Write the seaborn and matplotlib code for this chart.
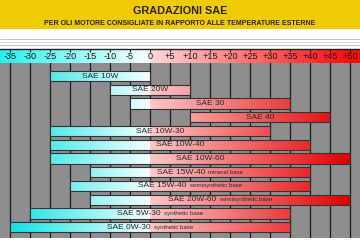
import numpy as np
import pandas as pd
import matplotlib
matplotlib.use("Agg")
import matplotlib.pyplot as plt
import seaborn as sns
from matplotlib.offsetbox import TextArea, HPacker, AnnotationBbox
from matplotlib.lines import Line2D
from matplotlib.patches import Rectangle

# ---------------- data ----------------
grades = ["SAE 10W", "SAE 20W", "SAE 30", "SAE 40", "SAE 10W-30", "SAE 10W-40",
          "SAE 10W-60", "SAE 15W-40", "SAE 15W-40", "SAE 20W-60", "SAE 5W-30", "SAE 0W-30"]
notes = ["", "", "", "", "", "", "", "mineral base", "semisynthetic base",
         "semisynthetic base", "synthetic base", "synthetic base"]
t_min = [-25, -10, -5, 10, -25, -25, -25, -15, -20, -15, -30, -35]
t_max = [0, 10, 35, 45, 30, 40, 50, 40, 40, 50, 35, 35]
tick_values = [-35, -30, -25, -20, -15, -10, -5, 0, 5, 10, 15, 20, 25, 30, 35, 40, 45, 50]
tick_labels = ["-35", "-30", "-25", "-20", "-15", "-10", "-5", "0", "+5", "+10", "+15",
               "+20", "+25", "+30", "+35", "+40", "+45", "+50"]
title = "GRADAZIONI SAE"
subtitle = "PER OLI MOTORE CONSIGLIATE IN RAPPORTO ALLE TEMPERATURE ESTERNE"

# ---------------- style ----------------
sns.set_theme(style="white")
plt.rcParams["font.family"] = ["Liberation Sans", "DejaVu Sans"]

W, H = 360, 240
XMIN, XMAX = -37.5, 52.5
fig = plt.figure(figsize=(3.6, 2.4), dpi=100)


def fy(y):
    return 1 - y / H


# header
fig.patches.append(Rectangle((0, fy(29)), 1, 29 / H, transform=fig.transFigure,
                             facecolor="#EFCB05", edgecolor="none", zorder=0))
fig.text(0.5, fy(11), title, ha="center", va="center", fontsize=7.8,
         fontweight="bold", color="#2b2410")
fig.text(0.5, fy(23.5), subtitle, ha="center", va="center", fontsize=5.0,
         fontweight="bold", color="#2b2410")
for yy, c in [(39, "#bdbdbd"), (41.5, "#d0d0d0"), (44.5, "#b5b5b5")]:
    fig.lines.append(Line2D([0, 1], [fy(yy), fy(yy)], transform=fig.transFigure,
                            color=c, lw=0.6))


def grad(xs, neg0, neg1, pos0, pos1):
    out = np.zeros((len(xs), 3))
    for i, x in enumerate(xs):
        if x < 0:
            t = (x - XMIN) / (-XMIN)
            c0, c1 = np.array(neg0), np.array(neg1)
        else:
            t = x / 50.0
            c0, c1 = np.array(pos0), np.array(pos1)
        t = min(max(t, 0), 1)
        out[i] = (c0 + (c1 - c0) * t) / 255.0
    return out


xs = np.linspace(XMIN, XMAX, 900)
bar_img = grad(xs, (0, 225, 225), (245, 255, 255), (255, 200, 200), (225, 0, 0))[None, :, :]
band_img = grad(xs, (40, 240, 240), (250, 255, 255), (255, 215, 215), (255, 10, 10))[None, :, :]

# temperature band
ax_band = fig.add_axes([0, fy(63), 1, (63 - 49) / H])
ax_band.imshow(band_img, extent=[XMIN, XMAX, 0, 1], aspect="auto")
ax_band.set_xlim(XMIN, XMAX)
ax_band.set_ylim(0, 1)
ax_band.set_xticks(tick_values)
ax_band.set_yticks([])
ax_band.tick_params(axis="x", top=True, bottom=False, direction="in", length=2.5,
                    width=0.8, color="#222222", labelbottom=False, labeltop=False)
for s in ["left", "right", "bottom"]:
    ax_band.spines[s].set_visible(False)
ax_band.spines["top"].set_color("#222222")
ax_band.spines["top"].set_linewidth(1.0)

# main chart
ax = fig.add_axes([0, fy(237.5), 1, (237.5 - 63) / H])
ax.set_zorder(3)
rows = [g + " " + n for g, n in zip(grades, notes)]
df = pd.DataFrame({"row": rows,
                   "span": np.array(t_max) - np.array(t_min)})
sns.barplot(data=df, x="span", y="row", left=t_min, orient="h", width=0.74,
            color="white", edgecolor="#333333", linewidth=0.8, errorbar=None,
            ax=ax, zorder=4)

for p in list(ax.patches):
    p.set_facecolor("none")
    im = ax.imshow(bar_img, extent=[XMIN, XMAX, 12, -1], aspect="auto", zorder=3)
    im.set_clip_path(p)

ax.set_facecolor("#8E8E8E")
ax.set_xlim(XMIN, XMAX)
ax.set_ylim(11.75, -0.95)
ax.set_xticks(tick_values)
ax.set_xticklabels(tick_labels)
ax.xaxis.tick_top()
ax.tick_params(axis="x", length=0, pad=1.2, labelsize=6.6, labelcolor="#1a1a1a")
ax.set_yticks([])
ax.set_xlabel("")
ax.set_ylabel("")
ax.set_axisbelow(True)
ax.grid(axis="x", color="#1c1c1c", lw=0.9)
ax.grid(axis="y", visible=False)
for s in ax.spines.values():
    s.set_visible(False)

for i, (g, n, a, b) in enumerate(zip(grades, notes, t_min, t_max)):
    kids = [TextArea(g, textprops=dict(size=6.0, color="#2a2a2a"))]
    if n:
        kids.append(TextArea(n, textprops=dict(size=4.4, color="#2a2a2a")))
    pack = HPacker(children=kids, align="baseline", pad=0, sep=2.5)
    ab = AnnotationBbox(pack, ((a + b) / 2, i), xycoords="data", frameon=False,
                        box_alignment=(0.5, 0.5), pad=0, zorder=6)
    ax.add_artist(ab)

fig.savefig("out.png", dpi=100)
